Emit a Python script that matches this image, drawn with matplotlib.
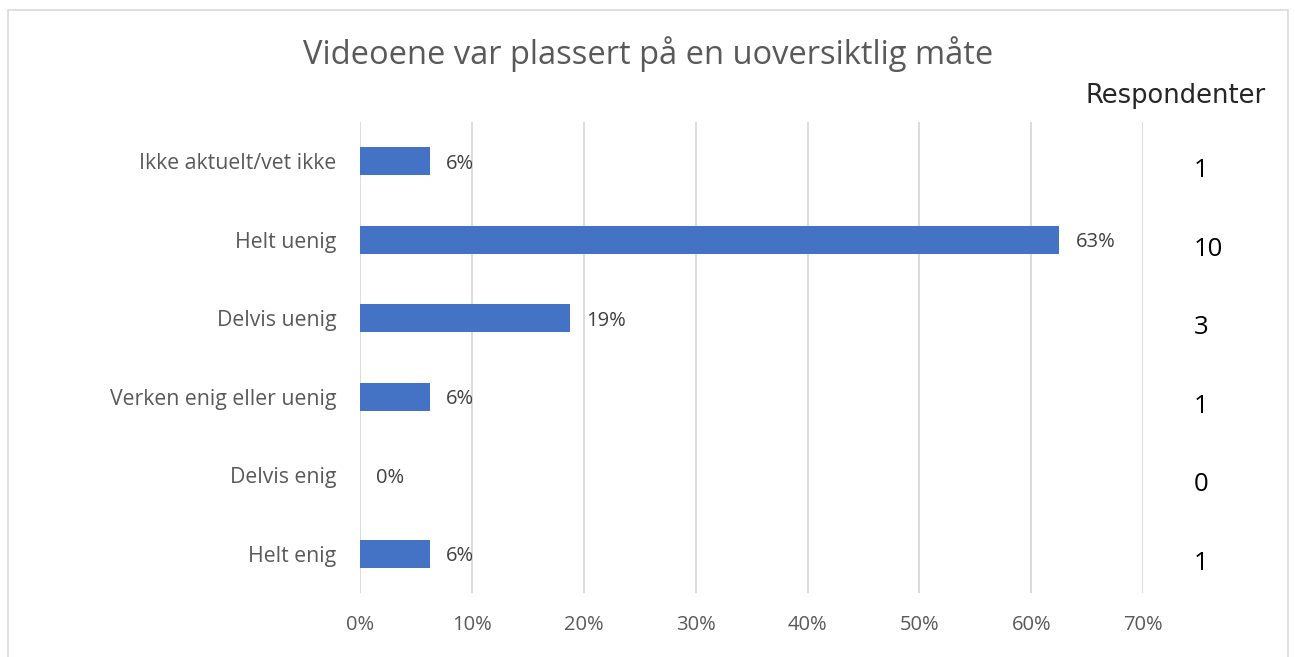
import math
import matplotlib.pyplot as plt
from matplotlib.patches import Rectangle
from matplotlib.transforms import blended_transform_factory

plt.rcParams['font.family'] = ['Open Sans', 'DejaVu Sans']

categories = ['Ikke aktuelt/vet ikke', 'Helt uenig', 'Delvis uenig',
              'Verken enig eller uenig', 'Delvis enig', 'Helt enig']
counts = [1, 10, 3, 1, 0, 1]
total = sum(counts)
shares = [c / total for c in counts]
xticks = [0, 0.1, 0.2, 0.3, 0.4, 0.5, 0.6, 0.7]
xtick_labels = ['0%', '10%', '20%', '30%', '40%', '50%', '60%', '70%']

grey = '#595959'
blue = '#4472C4'

fig = plt.figure(figsize=(12.95, 6.57), dpi=100)
ax = fig.add_axes([0.278, 0.0974, 0.6048, 0.7169])

ypos = list(range(len(categories)))
ax.barh(ypos, shares, height=0.36, color=blue, zorder=3)
for y, s in zip(ypos, shares):
	pct = math.floor(s * 100 + 0.5)  # excel style rounding
	ax.text(s + 0.0145, y + 0.03, f'{pct}%', va='center', ha='left',
		fontsize=14.5, color='#404040')

ax.set_xlim(0, 0.7)
ax.set_ylim(len(categories) - 0.5, -0.5)
ax.set_yticks(ypos)
ax.set_yticklabels(categories, fontsize=15.3, color=grey)
ax.set_xticks(xticks)
ax.set_xticklabels(xtick_labels, fontsize=14.5, color=grey)
ax.tick_params(length=0)
ax.tick_params(axis='y', pad=17)
ax.tick_params(axis='x', pad=16)
ax.xaxis.grid(True, color='#d9d9d9', lw=1.3, zorder=0)
for sp in ax.spines.values():
	sp.set_visible(False)

# respondent counts on the right
trans = blended_transform_factory(fig.transFigure, ax.transData)
for y, c in zip(ypos, counts):
	ax.text(1194 / 1295, y + 0.12, str(c), transform=trans,
		ha='left', va='center', fontsize=18.5, color='black')
fig.text(1176 / 1295, 1 - 96 / 657, 'Respondenter', ha='center', va='center',
	fontsize=18.5, color='#262626', family='DejaVu Sans')

fig.text(648 / 1295, 1 - 54 / 657, 'Videoene var plassert på en uoversiktlig måte',
	ha='center', va='center', fontsize=23.5, color=grey)

fig.patches.append(Rectangle((8 / 1295, -0.01), 1280 / 1295, 1 - 10 / 657 + 0.01,
	transform=fig.transFigure, fill=False, edgecolor='#d9d9d9', lw=1.2))

fig.savefig('out.png', dpi=100)
